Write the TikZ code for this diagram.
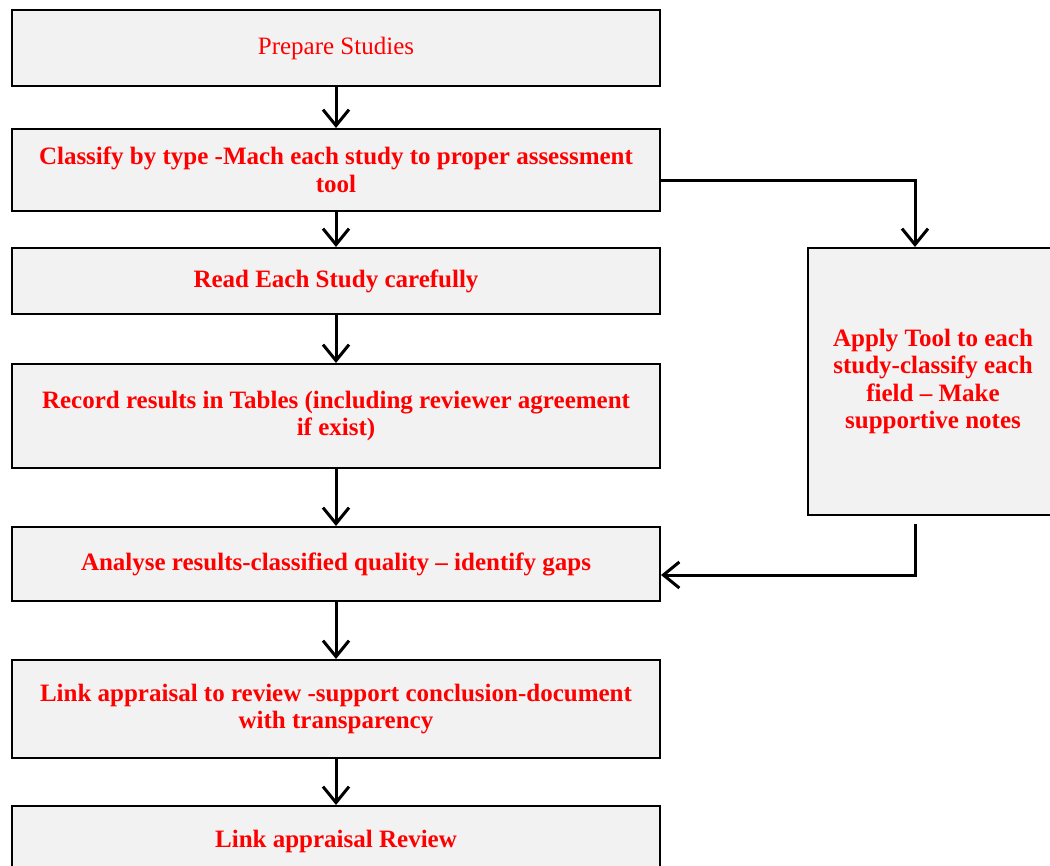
\documentclass[tikz,border=0pt]{standalone}
\usepackage{fontspec}
\setmainfont{Liberation Serif}
\usetikzlibrary{arrows.meta}
\definecolor{boxgray}{HTML}{F2F2F2}
\definecolor{txtred}{HTML}{FF0000}

\begin{document}
\begin{tikzpicture}[x=1pt,y=-1pt,
        stepbox/.style={draw=black, line width=2pt, fill=boxgray, text=txtred,
            minimum width=648pt, align=center, inner sep=0pt,
            font=\fontsize{25}{27.6}\selectfont\bfseries},
        flow/.style={draw=black, line width=3pt,
            -{Straight Barb[length=16pt,width=26pt]}}]
        \useasboundingbox (0,0) rectangle (1050,866);
        \clip (0,0) rectangle (1050,866);

        % main column
        \node[stepbox, minimum height=76pt, font=\fontsize{25}{27.6}\selectfont] (prep) at (336,48) {Prepare Studies};
        \node[stepbox, minimum height=82pt] (class) at (336,170) {Classify by type -Mach each study to proper assessment\\tool};
        \node[stepbox, minimum height=66pt] (read) at (336,281) {Read Each Study carefully};
        \node[stepbox, minimum height=104pt] (record) at (336,416) {Record results in Tables (including reviewer agreement\\if exist)};
        \node[stepbox, minimum height=74pt] (analyse) at (336,564) {Analyse results-classified quality -- identify gaps};
        \node[stepbox, minimum height=98pt] (link) at (336,709) {Link appraisal to review -support conclusion-document\\with transparency};
        \node[stepbox, minimum height=70pt] (review) at (336,841) {Link appraisal Review};

        % side box
        \node[stepbox, minimum width=250pt, minimum height=267pt] (apply) at (933,381.5) {Apply Tool to each\\study-classify each\\field -- Make\\supportive notes};

        \foreach \a/\b in {prep/class, class/read, read/record, record/analyse, analyse/link, link/review} {
                \draw[flow] (\a) -- (\b);
        }

        \draw[flow] ([yshift=-11pt]class.east) -| ([xshift=-18pt]apply.north);
        \draw[flow] ([xshift=-18pt,yshift=-8pt]apply.south) |- ([yshift=-11pt]analyse.east);

\end{tikzpicture}
\end{document}
